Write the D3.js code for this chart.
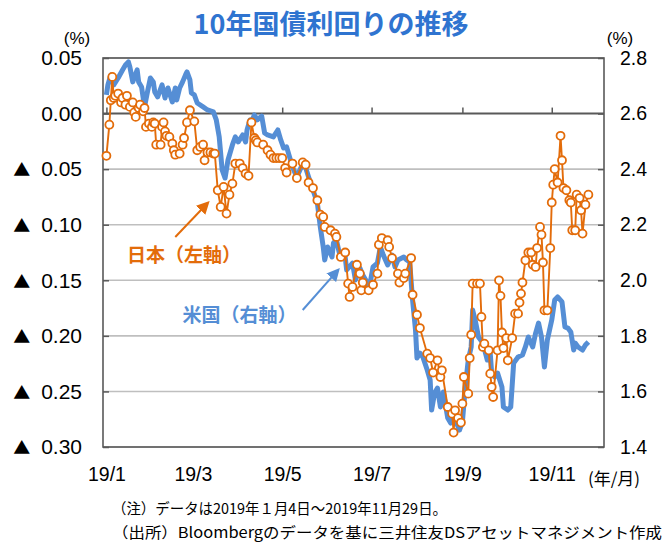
<!DOCTYPE html>
<html>
<head>
<meta charset="utf-8">
<script src="https://cdn.jsdelivr.net/npm/d3@7"></script>
<style>
body { margin: 0; background: #fff; }
svg { display: block; font-family: "Liberation Sans", "Noto Sans CJK JP", sans-serif; }
</style>
</head>
<body>
<svg id="chart" width="670" height="543"></svg>
<script>
'use strict';

// Japan 10y JGB yield (left axis, %)
var jpDates = ['1/4','1/6','1/7','1/8','1/9','1/10','1/12','1/14','1/15','1/17','1/18','1/20','1/22','1/23','1/24','1/26','1/27','1/29','1/30','1/31',
	'2/2','2/4','2/5','2/6','2/7','2/10','2/11','2/12','2/13','2/14','2/16','2/18','2/19','2/20','2/23','2/25','2/26','2/28',
	'3/2','3/5','3/7','3/9','3/11','3/12','3/14','3/16','3/18','3/19','3/21','3/23','3/25','3/27','3/29','3/31',
	'4/2','4/5','4/7','4/9','4/11','4/13','4/15','4/16','4/17','4/21','4/24','4/26','4/28','4/30',
	'5/2','5/4','5/6','5/7','5/11','5/14','5/18','5/20','5/22','5/25','5/28','5/30',
	'6/1','6/2','6/6','6/9','6/10','6/13','6/16','6/18','6/19','6/21','6/24','6/26','6/27','6/28',
	'7/2','7/5','7/8','7/9','7/11','7/15','7/16','7/18','7/22','7/23','7/26','7/27','7/31',
	'8/1','8/4','8/6','8/11','8/13','8/15','8/18','8/20','8/21','8/25','8/28','8/29','8/30',
	'9/1','9/3','9/4','9/5','9/8','9/9','9/10','9/11','9/14','9/16','9/17','9/18','9/19','9/22','9/23','9/24','9/25','9/28','9/29','9/30',
	'10/1','10/2','10/4','10/5','10/8','10/10','10/12','10/13','10/14','10/15','10/17','10/19','10/21','10/22','10/24','10/25','10/27','10/28','10/29','10/30',
	'11/1','11/3','11/4','11/5','11/6','11/8','11/10','11/11','11/12','11/14','11/16','11/17','11/18','11/20','11/21','11/23','11/24','11/25','11/27','11/29'];
var jpYield = [-0.038,-0.010,0.012,0.033,0.014,0.016,0.018,0.010,0.014,0.008,0.016,0.006,0.010,0.001,-0.003,0.005,0.008,0.002,0.005,-0.012,
	-0.009,-0.012,-0.008,-0.009,-0.028,-0.028,-0.012,-0.008,-0.016,-0.020,-0.021,-0.027,-0.033,-0.037,-0.036,-0.028,-0.022,-0.008,
	0.003,-0.007,-0.033,-0.030,-0.028,-0.042,-0.035,-0.035,-0.036,-0.036,-0.069,-0.084,-0.066,-0.090,-0.073,-0.063,
	-0.045,-0.045,-0.049,-0.054,-0.056,-0.008,-0.022,-0.024,-0.026,-0.028,-0.033,-0.037,-0.040,-0.040,
	-0.040,-0.040,-0.049,-0.053,-0.045,-0.058,-0.044,-0.046,-0.062,-0.067,-0.078,-0.091,
	-0.093,-0.102,-0.105,-0.108,-0.111,-0.129,-0.125,-0.153,-0.165,-0.156,-0.136,-0.144,-0.159,-0.152,
	-0.159,-0.154,-0.144,-0.118,-0.112,-0.114,-0.120,-0.130,-0.144,-0.152,-0.148,-0.144,-0.130,
	-0.163,-0.181,-0.193,-0.216,-0.220,-0.233,-0.222,-0.237,-0.231,-0.264,-0.270,-0.287,-0.267,
	-0.274,-0.278,-0.261,-0.237,-0.252,-0.220,-0.199,-0.153,-0.153,-0.153,-0.183,-0.210,-0.207,-0.213,-0.234,-0.246,-0.255,-0.213,-0.150,-0.164,
	-0.197,-0.211,-0.202,-0.222,-0.202,-0.180,-0.180,-0.170,-0.162,-0.152,-0.132,-0.125,-0.125,-0.136,-0.138,-0.121,-0.102,-0.109,-0.134,-0.177,
	-0.177,-0.121,-0.080,-0.064,-0.050,-0.062,-0.020,-0.042,-0.067,-0.069,-0.078,-0.080,-0.105,-0.105,-0.073,-0.076,-0.087,-0.108,-0.082,-0.073];

// US 10y Treasury yield (right axis, %)
var usDates = ['1/4','1/5','1/7','1/9','1/12','1/15','1/17','1/19','1/20','1/22','1/25','1/26','1/28','1/30',
	'2/1','2/3','2/5','2/6','2/8','2/11','2/13','2/15','2/18','2/20','2/21','2/23','2/25','2/27','2/28',
	'3/2','3/3','3/5','3/7','3/11','3/14','3/18','3/20','3/22','3/24','3/26','3/28','3/31',
	'4/2','4/4','4/7','4/9','4/10','4/12','4/13','4/15','4/17','4/20','4/22','4/24','4/28',
	'5/1','5/3','5/5','5/7','5/9','5/11','5/14','5/17','5/19','5/22','5/25','5/28','5/30',
	'6/1','6/2','6/4','6/7','6/8','6/10','6/12','6/16','6/17','6/21','6/23','6/26','6/28','6/30',
	'7/2','7/3','7/5','7/8','7/10','7/12','7/15','7/18','7/20','7/22','7/26','7/28','7/30',
	'8/1','8/3','8/4','8/6','8/8','8/11','8/13','8/14','8/16','8/18','8/20','8/22','8/25','8/27','8/29','8/31',
	'9/2','9/4','9/6','9/8','9/10','9/11','9/13','9/15','9/18','9/21','9/23','9/24','9/26','9/28',
	'10/1','10/2','10/5','10/7','10/9','10/12','10/15','10/17','10/19','10/22','10/24','10/26','10/28','10/30',
	'11/1','11/4','11/6','11/8','11/11','11/13','11/15','11/17','11/19','11/20','11/22','11/25','11/27','11/29'];
var usYield = [2.667,2.703,2.739,2.703,2.728,2.757,2.775,2.786,2.768,2.714,2.757,2.714,2.696,2.624,
	2.678,2.728,2.714,2.678,2.660,2.703,2.656,2.692,2.642,2.692,2.649,2.692,2.714,2.739,2.750,
	2.721,2.674,2.667,2.638,2.624,2.613,2.606,2.577,2.516,2.397,2.368,2.433,2.487,
	2.516,2.498,2.523,2.498,2.541,2.577,2.570,2.595,2.577,2.591,2.530,2.523,2.516,
	2.541,2.505,2.476,2.480,2.444,2.408,2.372,2.408,2.422,2.372,2.325,2.278,2.192,
	2.120,2.073,2.120,2.084,2.134,2.145,2.098,2.084,2.037,2.062,2.001,2.044,2.019,2.001,
	1.958,1.990,2.048,2.062,2.120,2.091,2.055,2.091,2.048,2.073,2.084,2.073,2.066,
	1.929,1.821,1.720,1.738,1.724,1.677,1.641,1.533,1.594,1.612,1.544,1.598,1.504,1.486,1.508,1.486,
	1.461,1.490,1.616,1.713,1.760,1.893,1.850,1.796,1.774,1.713,1.738,1.666,1.652,1.666,
	1.616,1.544,1.533,1.544,1.702,1.724,1.731,1.760,1.796,1.760,1.810,1.846,1.796,1.688,
	1.785,1.857,1.929,1.940,1.922,1.832,1.828,1.814,1.749,1.774,1.760,1.749,1.767,1.778];

var leftTicks = [0.05, 0, -0.05, -0.10, -0.15, -0.20, -0.25, -0.30];
var rightTicks = [2.8, 2.6, 2.4, 2.2, 2.0, 1.8, 1.6, 1.4];
var monthTicks = ['1/4', '3/4', '5/4', '7/4', '9/4', '11/4'];
var monthLabels = ['19/1', '19/3', '19/5', '19/7', '19/9', '19/11'];

var orange = '#E36C0A';
var blue = '#558ED5';
var axisGray = '#595959';
var gridGray = '#BFBFBF';

var parse = d3.timeParse('%Y/%m/%d');
var toDate = function(s) {
	return parse('2019/' + s);
};

var jpData = jpDates.map(function(d, i) { return {date: toDate(d), value: jpYield[i]}; });
var usData = usDates.map(function(d, i) { return {date: toDate(d), value: usYield[i]}; });

var plotL = 103, plotR = 604, plotT = 58, plotB = 447;

var x = d3.scaleTime()
	.domain([new Date(2019, 0, 1, 16), new Date(2019, 11, 9, 16)])
	.range([plotL, plotR]);
var yL = d3.scaleLinear().domain([-0.30, 0.05]).range([plotB, plotT]);
var yR = d3.scaleLinear().domain([1.4, 2.8]).range([plotB, plotT]);

var svg = d3.select('#chart');

// title
svg.append('text')
	.attr('x', 331).attr('y', 34)
	.attr('text-anchor', 'middle')
	.style('font-family', '"Noto Sans CJK JP", sans-serif')
	.style('font-size', '27px')
	.style('font-weight', 'bold')
	.style('fill', '#2F74D0')
	.text('10年国債利回りの推移');

// gridlines
svg.append('g').selectAll('line')
	.data(leftTicks.filter(function(t) { return t !== 0; }))
	.enter().append('line')
	.attr('x1', plotL).attr('x2', plotR)
	.attr('y1', function(d) { return yL(d); })
	.attr('y2', function(d) { return yL(d); })
	.style('stroke', gridGray)
	.style('stroke-width', 1.6);

// y axes
var gL = svg.append('g')
	.attr('transform', 'translate(' + plotL + ',0)')
	.call(d3.axisLeft(yL).tickValues(leftTicks).tickSize(-6).tickPadding(21)
		.tickFormat(function(t) { return Math.abs(t).toFixed(2); }));

var gR = svg.append('g')
	.attr('transform', 'translate(' + plotR + ',0)')
	.call(d3.axisRight(yR).tickValues(rightTicks).tickSize(-6).tickPadding(16).tickFormat(d3.format('.1f')));

[gL, gR].forEach(function(g) {
	g.select('.domain').remove();
	g.selectAll('line').style('stroke', axisGray).style('stroke-width', 1.5);
	g.selectAll('text')
		.style('font-family', '"Liberation Sans", "Noto Sans CJK JP", sans-serif')
		.style('fill', '#000');
});
gL.selectAll('text').style('font-size', '21px');
gR.selectAll('text').style('font-size', '19.5px');

// negative values marked with a triangle
gL.selectAll('.tick text')
	.filter(function(t) { return t < -1e-9; })
	.each(function() {
		var t = d3.select(this);
		var num = t.text();
		t.text(null);
		t.append('tspan')
			.style('font-family', '"Noto Sans CJK JP", sans-serif')
			.style('font-size', '17px')
			.text('▲');
		t.append('tspan').attr('dx', 11).text(num);
	});

// zero line with month ticks pointing up
var gZ = svg.append('g')
	.attr('transform', 'translate(0,' + yL(0) + ')')
	.call(d3.axisTop(x).tickValues(monthTicks.map(toDate)).tickSize(6).tickFormat(''));
gZ.select('.domain').remove();
gZ.selectAll('line').style('stroke', axisGray).style('stroke-width', 1.5);
svg.append('line')
	.attr('x1', plotL).attr('x2', plotR)
	.attr('y1', yL(0)).attr('y2', yL(0))
	.style('stroke', axisGray)
	.style('stroke-width', 2);

// month labels
var gX = svg.append('g')
	.attr('transform', 'translate(0,' + plotB + ')')
	.call(d3.axisBottom(x).tickValues(monthTicks.map(toDate)).tickSize(0).tickPadding(20)
		.tickFormat(function(d, i) { return monthLabels[i]; }));
gX.select('.domain').remove();
gX.selectAll('text')
	.style('font-size', '19.5px')
	.style('font-family', '"Liberation Sans", sans-serif')
	.style('fill', '#000');

// plot border
svg.append('rect')
	.attr('x', plotL).attr('y', plotT)
	.attr('width', plotR - plotL).attr('height', plotB - plotT)
	.style('fill', 'none')
	.style('stroke', axisGray)
	.style('stroke-width', 1.6);

// US line
var lineR = d3.line()
	.x(function(d) { return x(d.date); })
	.y(function(d) { return yR(d.value); });
svg.append('path')
	.datum(usData)
	.attr('d', lineR)
	.style('fill', 'none')
	.style('stroke', blue)
	.style('stroke-width', 5)
	.style('stroke-linejoin', 'round');

// Japan line + markers
var lineL = d3.line()
	.x(function(d) { return x(d.date); })
	.y(function(d) { return yL(d.value); });
svg.append('path')
	.datum(jpData)
	.attr('d', lineL)
	.style('fill', 'none')
	.style('stroke', orange)
	.style('stroke-width', 1.9);
svg.append('g').selectAll('circle')
	.data(jpData)
	.enter().append('circle')
	.attr('cx', function(d) { return x(d.date); })
	.attr('cy', function(d) { return yL(d.value); })
	.attr('r', 4)
	.style('fill', '#fff')
	.style('stroke', orange)
	.style('stroke-width', 1.8);

// unit labels
var unit = function(xp, txt) {
	svg.append('text')
		.attr('x', xp).attr('y', 44)
		.attr('text-anchor', 'middle')
		.style('font-size', '17px')
		.text(txt);
};
unit(77, '(%)');
unit(620, '(%)');

svg.append('text')
	.attr('x', 614).attr('y', 485)
	.attr('text-anchor', 'middle')
	.style('font-size', '17px')
	.style('font-family', '"Noto Sans CJK JP", sans-serif')
	.text('(年/月)');

// annotations
var defs = svg.append('defs');
var marker = function(id, color) {
	defs.append('marker')
		.attr('id', id)
		.attr('viewBox', '0 0 10 10')
		.attr('refX', 6).attr('refY', 5)
		.attr('markerWidth', 6.5).attr('markerHeight', 6.5)
		.attr('orient', 'auto')
		.append('path')
		.attr('d', 'M0,0L10,5L0,10z')
		.style('fill', color);
};
marker('headO', orange);
marker('headB', blue);

svg.append('line')
	.attr('x1', x(toDate('2/20'))).attr('y1', yL(-0.111))
	.attr('x2', x(toDate('3/13'))).attr('y2', yL(-0.082))
	.style('stroke', orange).style('stroke-width', 2)
	.attr('marker-end', 'url(#headO)');
svg.append('line')
	.attr('x1', x(toDate('5/18'))).attr('y1', yR(1.893))
	.attr('x2', x(toDate('6/10'))).attr('y2', yR(2.03))
	.style('stroke', blue).style('stroke-width', 2)
	.attr('marker-end', 'url(#headB)');

svg.append('text')
	.attr('x', x(toDate('1/18'))).attr('y', yL(-0.1336))
	.style('font-family', '"Noto Sans CJK JP", sans-serif')
	.style('font-size', '19px').style('font-weight', 'bold')
	.style('fill', orange)
	.text('日本（左軸）');
svg.append('text')
	.attr('x', x(toDate('2/25'))).attr('y', yR(1.85))
	.style('font-family', '"Noto Sans CJK JP", sans-serif')
	.style('font-size', '19px').style('font-weight', 'bold')
	.style('fill', blue)
	.text('米国（右軸）');

// notes
var note = function(yp, txt, len) {
	svg.append('text')
		.attr('x', 112).attr('y', yp)
		.attr('textLength', len)
		.attr('lengthAdjust', 'spacingAndGlyphs')
		.style('font-family', '"Noto Sans CJK JP", sans-serif')
		.style('font-size', '15px')
		.text(txt);
};
note(514, '（注）データは2019年１月4日～2019年11月29日。', 335);
note(538, '（出所）Bloombergのデータを基に三井住友DSアセットマネジメント作成', 550);
</script>
</body>
</html>
